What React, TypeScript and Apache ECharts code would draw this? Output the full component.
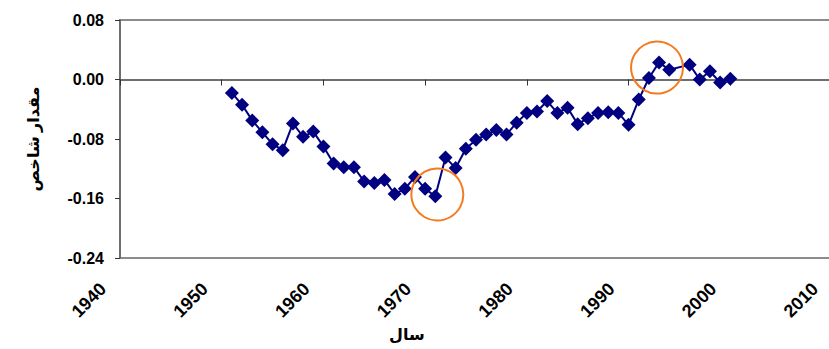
import React, { useEffect, useRef } from "react";
import * as echarts from "echarts";

const years = [
  1951, 1952, 1953, 1954, 1955, 1956, 1957, 1958, 1959, 1960,
  1961, 1962, 1963, 1964, 1965, 1966, 1967, 1968, 1969, 1970,
  1971, 1972, 1973, 1974, 1975, 1976, 1977, 1978, 1979, 1980,
  1981, 1982, 1983, 1984, 1985, 1986, 1987, 1988, 1989, 1990,
  1991, 1992, 1993, 1994, 1996, 1997, 1998, 1999, 2000,
];
const values = [
  -0.018, -0.034, -0.055, -0.071, -0.087, -0.095, -0.059, -0.077, -0.07, -0.09,
  -0.113, -0.118, -0.118, -0.137, -0.139, -0.135, -0.154, -0.147, -0.131, -0.147,
  -0.157, -0.105, -0.119, -0.093, -0.081, -0.074, -0.068, -0.074, -0.058, -0.045,
  -0.043, -0.029, -0.045, -0.038, -0.06, -0.052, -0.045, -0.044, -0.045, -0.061,
  -0.027, 0.002, 0.023, 0.013, 0.02, 0.0, 0.011, -0.004, 0.001,
];
// highlighted spots (orange circles): [year, value]
const highlights: [number, number][] = [
  [1971.2, -0.1546],
  [1992.8, 0.0161],
];
const yTitle = "مقدار شاخص";
const xTitle = "سال";

const FONT = "'Liberation Sans', Arial, 'DejaVu Sans', sans-serif";

export default function App() {
  const ref = useRef<HTMLDivElement>(null);
  useEffect(() => {
    if (!ref.current) return;
    const chart = echarts.init(ref.current, undefined, { renderer: "svg" });
    const data = years.map((y, i) => [y, values[i]]);
    chart.setOption({
      animation: false,
      backgroundColor: "#ffffff",
      grid: {
        left: 120,
        top: 20,
        width: 712,
        height: 238,
        containLabel: false,
        outerBoundsMode: "none",
        show: true,
        borderColor: "#8c8c8c",
        borderWidth: 2,
        backgroundColor: "transparent",
      },
      xAxis: [
        {
          type: "value",
          min: 1940,
          max: 2010,
          interval: 10,
          position: "bottom",
          axisLine: { show: false, onZero: false },
          axisTick: { show: false },
          splitLine: { show: false },
          axisLabel: {
            rotate: 45,
            margin: 11,
            padding: [0, 24, 0, 0],
            fontSize: 18,
            fontWeight: "bold",
            color: "#000",
            fontFamily: FONT,
            showMaxLabel: true,
            showMinLabel: true,
            hideOverlap: false,
            formatter: (v: number) => String(v),
          },
        },
        {
          type: "value",
          min: 1940,
          max: 2010,
          interval: 10,
          position: "top",
          axisLine: { show: true, onZero: true, lineStyle: { color: "#6e6e6e", width: 2 } },
          axisTick: { show: true, inside: true, length: 6, lineStyle: { color: "#333", width: 1 } },
          splitLine: { show: false },
          axisLabel: { show: false },
        },
      ],
      yAxis: {
        type: "value",
        min: -0.24,
        max: 0.08,
        interval: 0.08,
        name: yTitle,
        nameLocation: "middle",
        nameRotate: 90,
        nameGap: 79,
        nameTextStyle: { fontSize: 16, fontWeight: "bold", color: "#000", fontFamily: FONT },
        axisLine: { show: true, lineStyle: { color: "#6e6e6e", width: 2 } },
        axisTick: { show: true, length: 5, lineStyle: { color: "#333", width: 1 } },
        splitLine: { show: false },
        axisLabel: {
          margin: 16,
          fontSize: 16,
          fontWeight: "bold",
          color: "#000",
          fontFamily: FONT,
          formatter: (v: number) => v.toFixed(2),
        },
      },
      graphic: [
        {
          type: "text",
          left: 405 - 16,
          top: 326,
          style: {
            text: xTitle,
            fill: "#000",
            font: "bold 16px " + FONT,
          },
        },
      ],
      series: [
        {
          type: "line",
          data,
          xAxisIndex: 0,
          symbol: "diamond",
          symbolSize: 14,
          lineStyle: { color: "#000080", width: 2 },
          itemStyle: { color: "#000080" },
          markPoint: {
            symbol: "circle",
            symbolSize: 52,
            silent: true,
            label: { show: false },
            itemStyle: { color: "transparent", borderColor: "#F47A20", borderWidth: 2 },
            data: highlights.map((c) => ({ coord: c })),
          },
        },
      ],
    });
    return () => chart.dispose();
  }, []);
  return (
    <div
      ref={ref}
      style={{ position: "fixed", left: 0, top: 0, width: 829, height: 349, background: "#fff" }}
    />
  );
}
